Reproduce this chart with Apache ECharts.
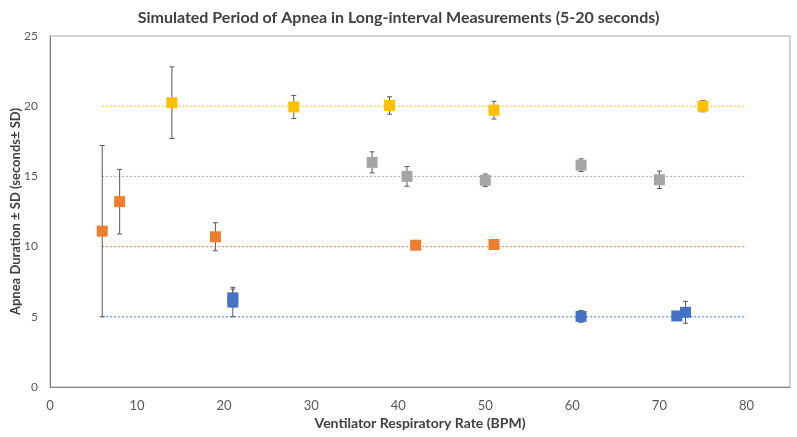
<!DOCTYPE html>
<html>
<head>
<meta charset="utf-8">
<script src="https://cdn.jsdelivr.net/npm/echarts@6/dist/echarts.min.js"></script>
<style>
html, body { margin: 0; padding: 0; background: #fff; }
#chart { width: 797px; height: 437px; }
</style>
</head>
<body>
<div id="chart"></div>
<script>
// target apnea periods (dotted reference lines)
const refLevels = [5, 10, 15, 20];
const refFrom = 6;
const refTo = 80;

// measured points: x = BPM, y = mean apnea (s), sd = standard deviation
const blueX = [21, 21, 61, 72, 73];
const blueY = [6.35, 6.05, 5.03, 5.06, 5.32];
const blueSD = [0.63, 1.05, 0.42, 0, 0.78];

const orangeX = [6, 8, 19, 42, 51];
const orangeY = [11.1, 13.2, 10.7, 10.1, 10.15];
const orangeSD = [6.1, 2.3, 1.0, 0, 0.2];

const grayX = [37, 41, 50, 61, 70];
const grayY = [16.0, 15.0, 14.72, 15.8, 14.76];
const graySD = [0.75, 0.7, 0.45, 0.45, 0.62];

const yellowX = [14, 28, 39, 51, 75];
const yellowY = [20.25, 19.95, 20.05, 19.72, 20.0];
const yellowSD = [2.55, 0.82, 0.62, 0.63, 0.4];

const colors = ['#4472C4', '#ED7D31', '#A5A5A5', '#FFC000'];
const groups = [
    [blueX, blueY, blueSD],
    [orangeX, orangeY, orangeSD],
    [grayX, grayY, graySD],
    [yellowX, yellowY, yellowSD]
];

const font = 'Lato';

let chart = echarts.init(document.getElementById('chart'));

let series = [];

// dotted target lines
refLevels.forEach((lvl, i) => {
    series.push({
        type: 'line',
        data: [[refFrom, lvl], [refTo, lvl]],
        symbol: 'none',
        silent: true,
        lineStyle: { color: colors[i], width: 1, type: [2, 2] },
        z: 1
    });
});

const renderErrorBar = (params, api) => {
    let x = api.value(0);
    let lo = api.value(1);
    let hi = api.value(2);
    if (hi - lo <= 0) {
        return;
    }
    let top = api.coord([x, hi]);
    let bot = api.coord([x, lo]);
    let half = 2.5;
    let style = { stroke: '#595959', lineWidth: 1 };
    return {
        type: 'group',
        children: [
            { type: 'line', shape: { x1: top[0], y1: top[1], x2: bot[0], y2: bot[1] }, style: style },
            { type: 'line', shape: { x1: top[0] - half, y1: top[1], x2: top[0] + half, y2: top[1] }, style: style },
            { type: 'line', shape: { x1: bot[0] - half, y1: bot[1], x2: bot[0] + half, y2: bot[1] }, style: style }
        ]
    };
};

groups.forEach((g, i) => {
    let xs = g[0], ys = g[1], sds = g[2];
    series.push({
        type: 'custom',
        renderItem: renderErrorBar,
        data: xs.map((x, k) => [x, ys[k] - sds[k], ys[k] + sds[k]]),
        encode: { x: 0, y: [1, 2] },
        silent: true,
        z: 2
    });
    series.push({
        type: 'scatter',
        data: xs.map((x, k) => [x, ys[k]]),
        symbol: 'rect',
        symbolSize: 11,
        itemStyle: { color: colors[i], opacity: 1 },
        z: 3
    });
});

let option = {
    animation: false,
    backgroundColor: '#fff',
    title: {
        text: 'Simulated Period of Apnea in Long-interval Measurements (5-20 seconds)',
        left: 'center',
        top: 5,
        textStyle: { fontFamily: font, fontWeight: 'bold', fontSize: 16, color: '#404040' }
    },
    grid: {
        left: 50,
        right: 7,
        top: 36,
        bottom: 50,
        outerBoundsMode: 'none',
        show: true,
        borderColor: '#A6A6A6',
        borderWidth: 1
    },
    xAxis: {
        type: 'value',
        min: 0,
        max: 85,
        interval: 10,
        name: 'Ventilator Respiratory Rate (BPM)',
        nameLocation: 'middle',
        nameGap: 28,
        nameTextStyle: { fontFamily: font, fontWeight: 'bold', fontSize: 14, color: '#404040' },
        splitLine: { show: false },
        axisTick: { show: false },
        axisLine: { lineStyle: { color: '#868686' } },
        axisLabel: {
            fontFamily: font, fontSize: 13, color: '#595959', margin: 12,
            formatter: v => (v % 10 === 0 ? v : '')
        }
    },
    yAxis: {
        type: 'value',
        min: 0,
        max: 25,
        interval: 5,
        name: 'Apnea Duration ± SD (seconds± SD)',
        nameLocation: 'middle',
        nameGap: 28,
        nameMoveOverlap: false,
        nameTextStyle: { fontFamily: font, fontWeight: 'bold', fontSize: 13, color: '#404040' },
        splitLine: { show: false },
        axisTick: { show: false },
        axisLine: { show: true, lineStyle: { color: '#868686' } },
        axisLabel: { fontFamily: font, fontSize: 12, color: '#595959', margin: 12 }
    },
    series: series
};

chart.setOption(option);
</script>
</body>
</html>
